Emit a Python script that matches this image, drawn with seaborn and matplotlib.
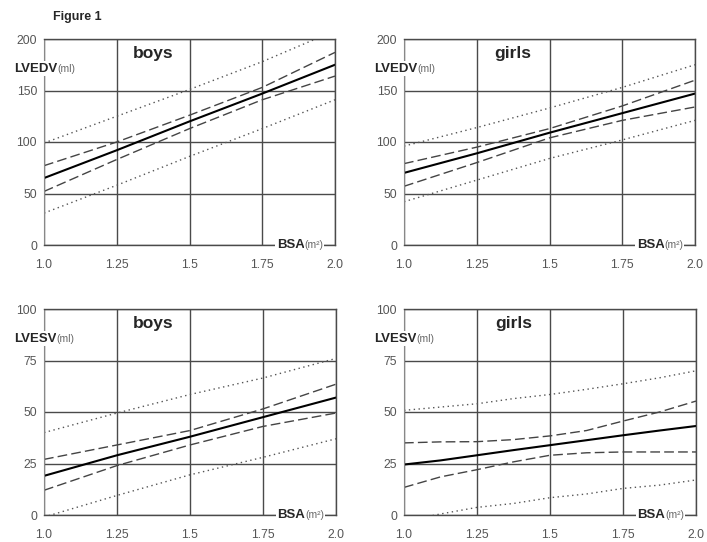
import numpy as np
import pandas as pd
import seaborn as sns
import matplotlib.pyplot as plt

# BSA (m2) sample points
bsa = [1.0, 1.25, 1.5, 1.75, 2.0]
bsa_fine = [1.0, 1.125, 1.25, 1.375, 1.5, 1.625, 1.75, 1.875, 2.0]

# LVEDV boys
edv_boys_mean = [65, 92, 120, 147, 175]
edv_boys_ci_hi = [77, 100, 126, 153, 187]
edv_boys_ci_lo = [52, 83, 113, 141, 164]
edv_boys_pi_hi = [99, 125, 151, 178, 208]
edv_boys_pi_lo = [31, 58, 86, 113, 141]

# LVEDV girls
edv_girls_mean = [70, 89, 109, 128, 147]
edv_girls_ci_hi = [79, 95, 113, 135, 160]
edv_girls_ci_lo = [57, 80, 104, 121, 134]
edv_girls_pi_hi = [96, 114, 133, 153, 175]
edv_girls_pi_lo = [42, 63, 84, 102, 121]

# LVESV boys
esv_boys_mean = [19, 29, 38, 47.5, 57]
esv_boys_ci_hi = [27, 34, 41, 51.5, 63.5]
esv_boys_ci_lo = [12, 24, 34, 43, 49.5]
esv_boys_pi_hi = [40, 49.5, 58.5, 66.5, 76]
esv_boys_pi_lo = [-1, 9.5, 19.5, 28, 37]

# LVESV girls
esv_girls_mean = [24.5, 26.5, 29, 31.5, 33.9, 36.3, 38.7, 41, 43.2]
esv_girls_ci_hi = [35, 35.5, 35.6, 36.6, 38.4, 41, 45.6, 50, 55.3]
esv_girls_ci_lo = [13.4, 18.5, 22, 25.8, 29, 30.2, 30.6, 30.6, 30.6]
esv_girls_pi_hi = [50.8, 52.4, 54, 56.5, 58.5, 61, 63.7, 66.6, 70]
esv_girls_pi_lo = [-3, 0.5, 3.7, 5.6, 8.4, 10.2, 12.9, 14.5, 17]

x_ticks = [1.0, 1.25, 1.5, 1.75, 2.0]
x_ticklabels = ['1.0', '1.25', '1.5', '1.75', '2.0']

sns.set_style('white')
plt.rcParams['font.family'] = ['Liberation Sans', 'DejaVu Sans']

fig = plt.figure(figsize=(7.07, 5.42), dpi=100)
W, H = 707, 542

def panel(px, py, pw, ph):
    return fig.add_axes([px / W, 1 - (py + ph) / H, pw / W, ph / H])

panels = [
    (panel(44, 39, 291, 206), bsa, [edv_boys_mean, edv_boys_ci_hi, edv_boys_ci_lo, edv_boys_pi_hi, edv_boys_pi_lo],
     200, 'LVEDV', 'boys'),
    (panel(404, 39, 291, 206), bsa, [edv_girls_mean, edv_girls_ci_hi, edv_girls_ci_lo, edv_girls_pi_hi, edv_girls_pi_lo],
     200, 'LVEDV', 'girls'),
    (panel(44, 309, 292, 206), bsa, [esv_boys_mean, esv_boys_ci_hi, esv_boys_ci_lo, esv_boys_pi_hi, esv_boys_pi_lo],
     100, 'LVESV', 'boys'),
    (panel(404, 309, 292, 206), bsa_fine, [esv_girls_mean, esv_girls_ci_hi, esv_girls_ci_lo, esv_girls_pi_hi, esv_girls_pi_lo],
     100, 'LVESV', 'girls'),
]

styles = [
    dict(color='black', lw=1.5, ls='-'),
    dict(color='#444444', lw=1.0, ls=(0, (7, 3))),
    dict(color='#444444', lw=1.0, ls=(0, (7, 3))),
    dict(color='#555555', lw=1.0, ls=(0, (1, 2.5))),
    dict(color='#555555', lw=1.0, ls=(0, (1, 2.5))),
]

grid_c = '#4a4a4a'
for ax, xs, series, ymax, ylab, group in panels:
    for ys, st in zip(series, styles):
        sns.lineplot(x=xs, y=ys, ax=ax, color=st['color'], linewidth=st['lw'],
                     linestyle=st['ls'], zorder=2)
    ax.set_xlim(1.0, 2.0)
    ax.set_ylim(0, ymax)
    ax.set_xticks(x_ticks)
    ax.set_xticklabels(x_ticklabels)
    ax.set_yticks(np.linspace(0, ymax, 5))
    ax.set_yticklabels([f'{int(v)}' for v in np.linspace(0, ymax, 5)])
    ax.tick_params(axis='both', direction='out', length=3, width=1, colors='#777777',
                   labelcolor='#555555', labelsize=8.8, pad=2)
    ax.tick_params(axis='x', pad=7)
    ax.grid(True, color=grid_c, linewidth=1.0)
    for side in ['top', 'right', 'bottom']:
        ax.spines[side].set_color(grid_c)
        ax.spines[side].set_linewidth(1.0)
        ax.spines[side].set_visible(True)
    ax.spines['left'].set_color('#888888')
    ax.spines['left'].set_visible(True)
    ax.set_xlabel('')
    ax.set_ylabel('')

    # axis names sit on top of the axis lines, with white boxes hiding them
    box = dict(facecolor='white', edgecolor='none', pad=1.0)
    ubox = dict(facecolor='white', edgecolor='none', pad=0.3)
    t = ax.text(-0.103, 0.855, ylab, transform=ax.transAxes, fontsize=9.5, fontweight='bold',
                ha='left', va='center', bbox=box, zorder=5)
    ax.annotate('(ml)', xy=(1, 0.5), xycoords=t, xytext=(0, 0), textcoords='offset points',
                fontsize=7.5, color='#666666', va='center', ha='left', bbox=ubox, zorder=6)
    t2 = ax.text(0.80, 0.0, 'BSA', transform=ax.transAxes, fontsize=9.5, fontweight='bold',
                 ha='left', va='center', bbox=box, zorder=5)
    ax.annotate('(m²)', xy=(1, 0.5), xycoords=t2, xytext=(0, 0), textcoords='offset points',
                fontsize=7.5, color='#666666', va='center', ha='left', bbox=ubox, zorder=6)
    ax.text(0.375, 0.93, group, transform=ax.transAxes, fontsize=12.5, fontweight='bold',
            ha='center', va='center', zorder=5)

fig.text(53 / W, 1 - 17 / H, 'Figure 1', fontsize=9, fontweight='bold', ha='left', va='center')

fig.savefig('out.png', dpi=100)
